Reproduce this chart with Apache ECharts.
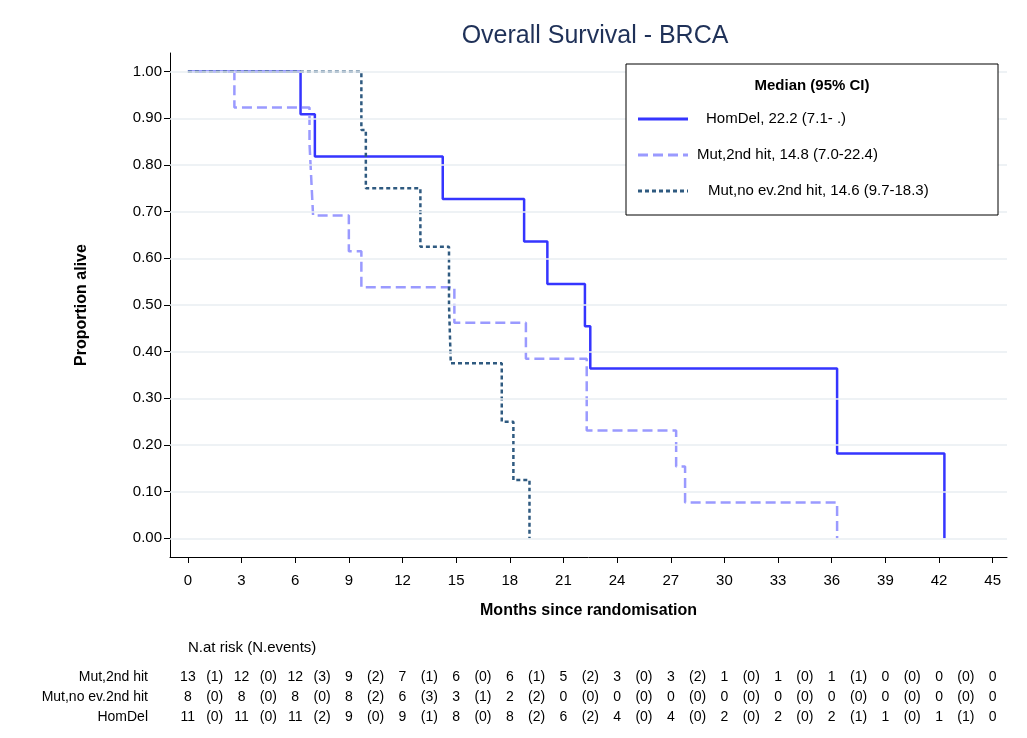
<!DOCTYPE html><html><head><meta charset="utf-8"><script src="https://cdn.jsdelivr.net/npm/echarts@6/dist/echarts.min.js"></script></head><body style="margin:0;background:#fff"><div id="c" style="width:1027px;height:738px"></div><script>
const xTicks=[0,3,6,9,12,15,18,21,24,27,30,33,36,39,42,45];
const yTicks=[0,.1,.2,.3,.4,.5,.6,.7,.8,.9,1];
const homDel=[[0,1],[6.3,0.909],[7.1,0.818],[14.25,0.727],[18.8,0.636],[20.1,0.545],[22.2,0.4545],[22.5,0.364],[36.3,0.182],[42.3,0]];
const mut2nd=[[0,1],[2.6,0.923],[6.8,0.846],[6.9,0.769],[7.0,0.692],[9.0,0.615],[9.7,0.538],[14.9,0.462],[18.9,0.385],[22.3,0.231],[27.3,0.154],[27.8,0.077],[36.3,0]];
const mutNoEv=[[0,1],[9.7,0.875],[9.95,0.75],[13.0,0.625],[14.6,0.5],[14.7,0.375],[17.55,0.25],[18.2,0.125],[19.1,0]];
const names=['HomDel, 22.2 (7.1- .)','Mut,2nd hit, 14.8 (7.0-22.4)','Mut,no ev.2nd hit, 14.6 (9.7-18.3)'];
const riskRows=['Mut,2nd hit','Mut,no ev.2nd hit','HomDel'];
const riskN=[[13,12,12,9,7,6,6,5,3,3,1,1,1,0,0,0],[8,8,8,8,6,3,2,0,0,0,0,0,0,0,0,0],[11,11,11,9,9,8,8,6,4,4,2,2,2,1,1,0]];
const riskE=[[1,0,3,2,1,0,1,2,0,2,0,0,1,0,0],[0,0,0,2,3,1,2,0,0,0,0,0,0,0,0],[0,0,2,0,1,0,2,2,0,0,0,0,1,0,1]];
const colors=['#3535ff','#9a9aff','#2f5a80'];
const dashes=['solid',[10,5],[4,3]];
const ch=echarts.init(document.getElementById('c'));
const font='Liberation Sans';
const g=[{type:'rect',shape:{x:626,y:64,width:372,height:151},style:{fill:'#fff',stroke:'#000',lineWidth:1},z:5},
 {type:'text',x:812,y:78,style:{text:'Median (95% CI)',font:'bold 15px '+font,textAlign:'center',fill:'#000'},z:10}];
[119,155,191].forEach((y,i)=>{
 g.push({type:'line',shape:{x1:638,y1:y,x2:688,y2:y},style:{stroke:colors[i],lineWidth:3,lineDash:dashes[i]==='solid'?null:dashes[i]},z:10});
 g.push({type:'text',x:[706,697,708][i],y:y,style:{text:names[i],font:'15px '+font,textVerticalAlign:'middle',fill:'#000'},z:10});
});
const opt={animation:false,textStyle:{fontFamily:font},
title:{text:'Overall Survival - BRCA',left:590,top:19,textAlign:'center',textStyle:{fontSize:25,fontWeight:'normal',color:'#1f3158',fontFamily:font}},
grid:{left:170,right:20,top:53,bottom:181},
xAxis:{type:'value',min:-1,max:45.8,interval:3,name:'Months since randomisation',nameLocation:'middle',nameGap:46,nameTextStyle:{fontSize:16,fontWeight:'bold',color:'#000'},
 axisLine:{onZero:false,lineStyle:{color:'#000'}},axisTick:{show:true,length:6,lineStyle:{color:'#000'},customValues:xTicks},axisLabel:{fontSize:15,margin:16,color:'#000',customValues:xTicks},splitLine:{show:false}},
yAxis:{type:'value',min:-0.04,max:1.04,name:'Proportion alive',nameLocation:'middle',nameGap:80,nameTextStyle:{fontSize:16,fontWeight:'bold',color:'#000'},
 axisLine:{show:true,onZero:false,lineStyle:{color:'#000'}},axisTick:{show:true,length:6,lineStyle:{color:'#000'},customValues:yTicks},
 axisLabel:{fontSize:15,color:'#000',formatter:v=>v.toFixed(2),customValues:yTicks},splitLine:{show:false}},
series:[
 {type:'line',name:'__grid',data:[],markLine:{silent:true,symbol:'none',label:{show:false},lineStyle:{color:'#e8eef2',type:'solid',width:1.5},data:yTicks.map(v=>({yAxis:v}))},z:0},
 {type:'line',name:names[0],data:homDel,step:'end',symbol:'none',lineStyle:{color:colors[0],width:2.5}},
 {type:'line',name:names[1],data:mut2nd,step:'end',symbol:'none',lineStyle:{color:colors[1],width:2.5,type:dashes[1]}},
 {type:'line',name:names[2],data:mutNoEv,step:'end',symbol:'none',lineStyle:{color:colors[2],width:2.5,type:dashes[2]}}]};
ch.setOption(opt);
g.push({type:'text',x:188,y:640,style:{text:'N.at risk (N.events)',font:'15px '+font,fill:'#000'}});
const ys=[677,697,717];
riskRows.forEach((r,i)=>{
 g.push({type:'text',x:148,y:ys[i],style:{text:r,font:'14px '+font,textAlign:'right',textVerticalAlign:'middle',fill:'#000'}});
 riskN[i].forEach((n,j)=>{const px=ch.convertToPixel({xAxisIndex:0},xTicks[j]);
  g.push({type:'text',x:px,y:ys[i],style:{text:String(n),font:'14px '+font,textAlign:'center',textVerticalAlign:'middle',fill:'#000'}});});
 riskE[i].forEach((e,j)=>{const px=ch.convertToPixel({xAxisIndex:0},xTicks[j]+1.5);
  g.push({type:'text',x:px,y:ys[i],style:{text:'('+e+')',font:'14px '+font,textAlign:'center',textVerticalAlign:'middle',fill:'#000'}});});
});
ch.setOption({graphic:g});
</script></body></html>
